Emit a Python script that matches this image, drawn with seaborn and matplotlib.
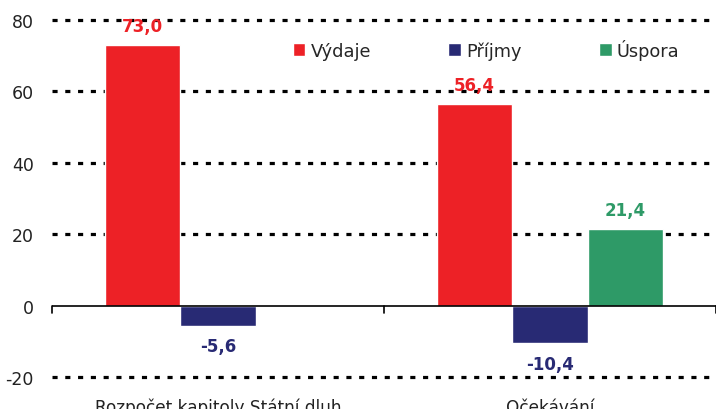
import numpy as np
import pandas as pd
import matplotlib
matplotlib.use("Agg")
import matplotlib.pyplot as plt
import seaborn as sns

# data
categories = ["Rozpočet kapitoly Státní dluh", "Očekávání"]
series = ["Výdaje", "Příjmy", "Úspora"]
vydaje = [73.0, 56.4]
prijmy = [-5.6, -10.4]
uspora = [np.nan, 21.4]
colors = ["#ED2126", "#282A74", "#2E9A67"]

df = pd.DataFrame({
    "cat": categories * 3,
    "series": [s for s in series for _ in categories],
    "value": vydaje + prijmy + uspora,
})

sns.set_style("white")
plt.rcParams["font.family"] = "sans-serif"
plt.rcParams["font.sans-serif"] = ["DejaVu Sans"]

fig = plt.figure(figsize=(7.16, 4.10), dpi=100)
ax = fig.add_axes([52 / 716, 32 / 410, 664 / 716, 357 / 410])

sns.barplot(data=df.dropna(), x="cat", y="value", hue="series", hue_order=series,
            order=categories, palette=colors, width=0.68, saturation=1,
            ax=ax, legend=True)

ax.set_ylim(-20, 80)
ax.set_xlim(-0.5, 1.5)
ax.set_yticks([-20, 0, 20, 40, 60, 80])
ax.set_yticklabels(["-20", "0", "20", "40", "60", "80"], fontsize=12.5,
                   color="#222222", family="DejaVu Sans")
ax.set_xticks(range(len(categories)))
ax.set_xticklabels(categories, fontsize=12.2, color="#222222", family="DejaVu Sans")
ax.set_xlabel("")
ax.set_ylabel("")
ax.tick_params(axis="y", length=0, pad=13)
ax.tick_params(axis="x", length=0, pad=15)

for s in ax.spines.values():
    s.set_visible(False)

# dotted gridlines
for yv in [-20, 20, 40, 60, 80]:
    ax.axhline(yv, color="black", lw=2.3, ls=(0, (1.6, 2.4)), zorder=0, clip_on=False)
ax.axhline(0, color="black", lw=1.2, zorder=3)
for xv in [-0.5, 0.5, 1.5]:
    ax.plot([xv, xv], [0, -2.0], color="black", lw=1.2, zorder=3, clip_on=False)

# value labels
for cont, col in zip(ax.containers, colors):
    for rect in cont:
        h = rect.get_height()
        if np.isnan(h):
            continue
        x = rect.get_x() + rect.get_width() / 2
        lab = f"{h:.1f}".replace(".", ",")
        if h >= 0:
            ax.text(x, h + 2.8, lab, ha="center", va="bottom", color=col,
                    fontsize=12, fontweight="bold", family="DejaVu Sans")
        else:
            ax.text(x, h - 3.3, lab, ha="center", va="top", color=col,
                    fontsize=12, fontweight="bold", family="DejaVu Sans")

leg = ax.legend(loc="upper left", bbox_to_anchor=(0.352, 0.967), ncol=3, frameon=False,
                prop={"family": "DejaVu Sans", "size": 12.8}, handlelength=0.7,
                handleheight=0.7, handletextpad=0.3, columnspacing=4.35, borderaxespad=0)

fig.savefig("out.png", dpi=100)
